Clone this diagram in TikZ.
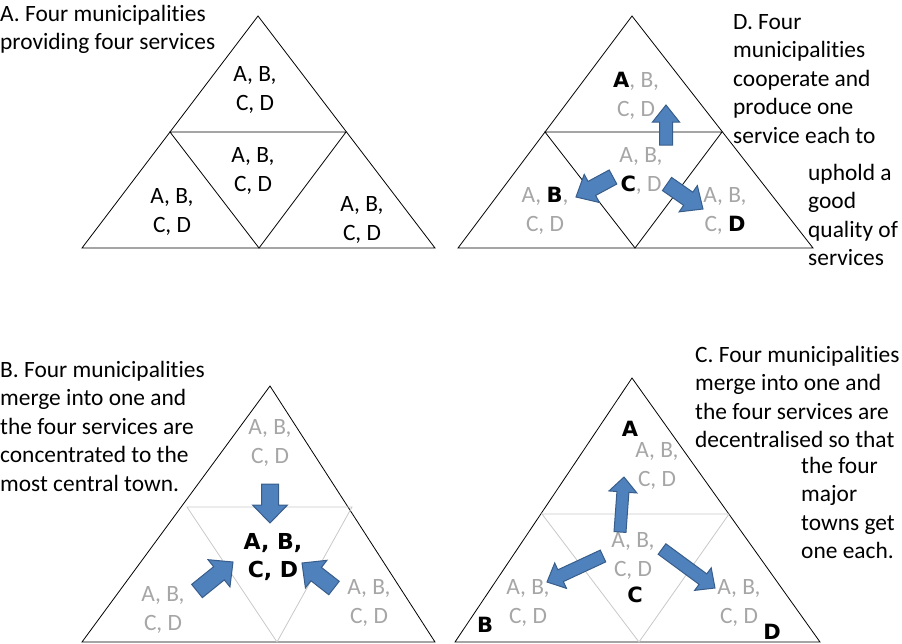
\documentclass[tikz,border=0pt]{standalone}
\usepackage{fontspec}
\setmainfont{Carlito}[Ligatures=NoCommon]
\newfontfamily\heavyfont{DejaVu Sans}
\usetikzlibrary{calc}
\definecolor{arrowblue}{HTML}{4F81BD}
\definecolor{arrowedge}{HTML}{385D8A}
\definecolor{faint}{HTML}{A6A6A6}
\definecolor{gridgray}{HTML}{C8C8C8}
\newcommand\bk[1]{{\color{black}\heavyfont\bfseries\fontsize{21}{28.5}\selectfont #1}}
% tail, tip, (shaft half width : head half width : head length)
\def\blockarrow(#1)(#2)(#3:#4:#5){%
  \coordinate (h) at ($(#2)!#5pt!(#1)$);
  \draw[blockarrow] ($(#1)!#3pt!90:(#2)$) -- ($(h)!#3pt!90:(#2)$) -- ($(h)!#4pt!90:(#2)$) -- (#2)
    -- ($(h)!#4pt!-90:(#2)$) -- ($(h)!#3pt!-90:(#2)$) -- ($(#1)!#3pt!-90:(#2)$) -- cycle;}

\begin{document}
\begin{tikzpicture}[x=1pt, y=-1pt,
  edge/.style={line width=0.8pt},
  faintedge/.style={line width=0.8pt, draw=gridgray},
  cell/.style={align=center, inner sep=0pt, text=faint, font=\fontsize{23.4}{28.5}\selectfont},
  heading/.style={anchor=base west, align=left, inner sep=0pt, font=\fontsize{23.4}{28.5}\selectfont},
  blockarrow/.style={fill=arrowblue, draw=arrowedge, line width=1pt, line join=miter}]
			\useasboundingbox (0,0) rectangle (902,643);
			
			%%%%% A %%%%%
			% headings are placed at the baseline of their last line
			\node[heading] (titleA) at (0,49.5) {A. Four municipalities\\providing four services};
			\draw[edge] (82,248) -- (258,16) -- (435,248) -- cycle;
			\draw[edge] (170,132) -- (346,132) -- (259,248) -- cycle;
			\node[cell, text=black] (aTop) at (255,90) {A, B,\\C, D};
			\node[cell, text=black] (aMid) at (253,171) {A, B,\\C, D};
			\node[cell, text=black] (aLeft) at (172,212) {A, B,\\C, D};
			\node[cell, text=black] (aRight) at (362,220) {A, B,\\C, D};
			
			%%%%% D %%%%%
			\node[heading] (titleD) at (733,143) {D. Four\\municipalities\\cooperate and\\produce one\\service each to};
			\node[heading] (titleDb) at (808,265.5) {uphold a\\good\\quality of\\services};
			\draw[edge] (458,248) -- (632,16) -- (813,248) -- cycle;
			\draw[edge] (545,132) -- (722,132) -- (635,248) -- cycle;
			\node[cell] (dTop) at (636,96) {\bk{A}, B,\\C, D};
			\node[cell] (dMid) at (641,171) {A, B,\\\bk{C}, D};
			\node[cell] (dLeft) at (545,211) {A, \bk{B},\\C, D};
			\node[cell] (dRight) at (725,211) {A, B,\\C, \bk{D}};
			\coordinate (dUp0) at (666,145);   \coordinate (dUp1) at (666,105);
			\coordinate (dLeft0) at (613,177); \coordinate (dLeft1) at (576,197);
			\coordinate (dRight0) at (667,184); \coordinate (dRight1) at (703,209);
			\blockarrow(dUp0)(dUp1)(6.5:13.5:17)
			\blockarrow(dLeft0)(dLeft1)(8:16:18)
			\blockarrow(dRight0)(dRight1)(8:16:18)
			
			%%%%% B %%%%%
			\node[heading] (titleB) at (0,491) {B. Four municipalities\\merge into one and\\the four services are\\concentrated to the\\most central town.};
			\draw[edge] (82,642) -- (270,386) -- (435,642) -- cycle;
			\draw[faintedge] (187,507) -- (352,507) -- (277,642) -- cycle;
			\node[cell] (bTop) at (270,443) {A, B,\\C, D};
			\node[cell, text=black, font=\heavyfont\bfseries\fontsize{22}{28.5}\selectfont] (bMid) at (273,557) {A, B,\\C, D};
			\node[cell] (bLeft) at (163,610) {A, B,\\C, D};
			\node[cell] (bRight) at (369,603) {A, B,\\C, D};
			\coordinate (bDown0) at (270,484);  \coordinate (bDown1) at (270,523);
			\coordinate (bLeft0) at (197,591);  \coordinate (bLeft1) at (233,562);
			\coordinate (bRight0) at (334,588); \coordinate (bRight1) at (302,563);
			\blockarrow(bDown0)(bDown1)(8.5:17.5:18)
			\blockarrow(bLeft0)(bLeft1)(8.5:17.5:18)
			\blockarrow(bRight0)(bRight1)(8.5:17.5:18)
			
			%%%%% C %%%%%
			\node[heading] (titleC) at (695,447.5) {C. Four municipalities\\merge into one and\\the four services are\\decentralised so that};
			\node[heading] (titleCb) at (801,558.5) {the four\\major\\towns get\\one each.};
			\draw[edge] (455,642) -- (632,378) -- (820,642) -- cycle;
			\draw[faintedge] (542,514) -- (729,514) -- (639,642) -- cycle;
			\node[cell] (cTop) at (657,466) {A, B,\\C, D};
			\node[cell] (cMid) at (633,556) {A, B,\\C, D};
			\node[cell] (cLeft) at (528,603) {A, B,\\C, D};
			\node[cell] (cRight) at (739,603) {A, B,\\C, D};
			\node[inner sep=0pt] (townA) at (630,429) {\bk{A}};
			\node[inner sep=0pt] (townB) at (485,625) {\bk{B}};
			\node[inner sep=0pt] (townC) at (635,595) {\bk{C}};
			\node[inner sep=0pt] (townD) at (772,632) {\bk{D}};
			\coordinate (cUp0) at (620,532);    \coordinate (cUp1) at (624,477);
			\coordinate (cLeft0) at (603,556);  \coordinate (cLeft1) at (547,582);
			\coordinate (cRight0) at (662,549); \coordinate (cRight1) at (715,588);
			\blockarrow(cUp0)(cUp1)(6:14:15)
			\blockarrow(cLeft0)(cLeft1)(6.5:14:15)
			\blockarrow(cRight0)(cRight1)(6.5:14:15)
		\end{tikzpicture}
\end{document}
